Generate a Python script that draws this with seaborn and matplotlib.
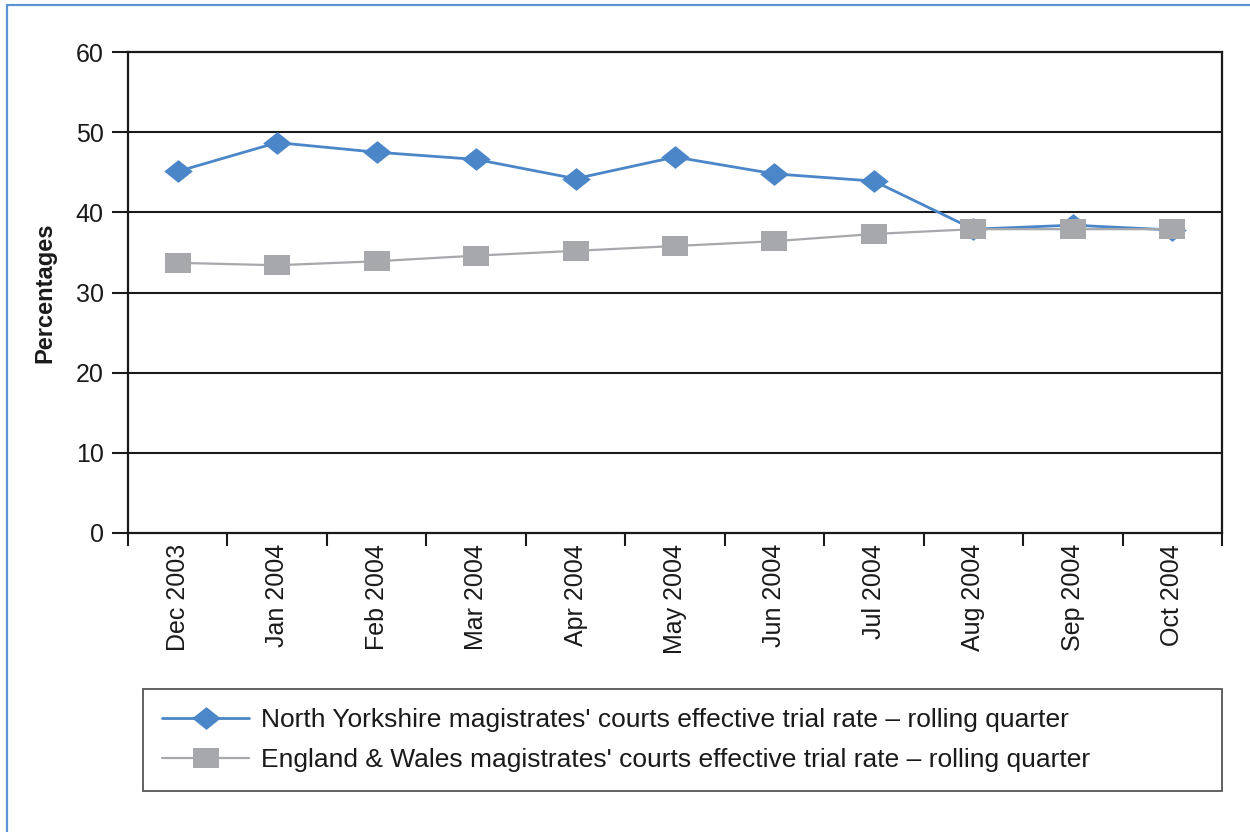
import matplotlib
matplotlib.use("Agg")
import matplotlib.pyplot as plt
from matplotlib.lines import Line2D
from matplotlib.path import Path
from matplotlib.ticker import FixedLocator, NullFormatter
import numpy as np
import pandas as pd
import seaborn as sns

months = ["Dec 2003", "Jan 2004", "Feb 2004", "Mar 2004", "Apr 2004", "May 2004",
          "Jun 2004", "Jul 2004", "Aug 2004", "Sep 2004", "Oct 2004"]
north_yorkshire = [45.1, 48.7, 47.5, 46.6, 44.2, 46.9, 44.8, 43.9, 37.9, 38.4, 37.8]
england_wales = [33.7, 33.4, 33.9, 34.6, 35.2, 35.8, 36.4, 37.3, 37.9, 37.9, 37.9]
series_names = [
    "North Yorkshire magistrates' courts effective trial rate \u2013 rolling quarter",
    "England & Wales magistrates' courts effective trial rate \u2013 rolling quarter",
]
y_ticks = [0, 10, 20, 30, 40, 50, 60]

sns.set_theme(style="white")
plt.rcParams["font.family"] = ["Liberation Sans", "DejaVu Sans"]

BLUE = "#4a86c8"
GREY = "#a7a8ab"
INK = "#1a1a1a"

# wide diamond and wide square markers
diamond = Path([(0, 1), (1.25, 0), (0, -1), (-1.25, 0), (0, 1)], closed=True)
square = Path([(-1.3, -1), (1.3, -1), (1.3, 1), (-1.3, 1), (-1.3, -1)], closed=True)

fig = plt.figure(figsize=(12.5, 8.32), dpi=100)
ax = fig.add_axes([128 / 1250, 1 - 533 / 832, (1222 - 128) / 1250, (533 - 52) / 832])

pos = np.arange(len(months))
df = pd.DataFrame({"pos": np.concatenate([pos, pos]),
                   "value": north_yorkshire + england_wales,
                   "series": [series_names[0]] * len(pos) + [series_names[1]] * len(pos)})

# gridlines first so the series sit on top
for t in y_ticks[1:-1]:
    ax.axhline(t, color=INK, lw=1.5, zorder=1)

sns.lineplot(data=df[df.series == series_names[1]], x="pos", y="value", ax=ax,
             color=GREY, lw=1.6, marker=square, markersize=19, markeredgewidth=0,
             markerfacecolor=GREY, zorder=3, legend=False)
sns.lineplot(data=df[df.series == series_names[0]], x="pos", y="value", ax=ax,
             color=BLUE, lw=2.0, marker=diamond, markersize=20.5, markeredgewidth=0,
             markerfacecolor=BLUE, zorder=2, legend=False)

ax.set_xlim(-0.5, len(months) - 0.5)
ax.set_ylim(0, 60)
ax.set_yticks(y_ticks)
ax.set_yticklabels([str(t) for t in y_ticks], fontsize=18, color=INK)

# category boundaries carry the tick marks, centres carry the labels
ax.xaxis.set_major_locator(FixedLocator(np.arange(-0.5, len(months), 1.0)))
ax.xaxis.set_major_formatter(NullFormatter())
ax.xaxis.set_minor_locator(FixedLocator(pos))
ax.set_xticklabels(months, minor=True, rotation=90, fontsize=18, color=INK)
ax.tick_params(axis="x", which="major", direction="out", length=9, width=1.5,
               color=INK, bottom=True)
ax.tick_params(axis="x", which="minor", length=0, pad=8, bottom=True)
ax.tick_params(axis="y", direction="out", length=11.5, width=1.5, color=INK,
               left=True, pad=6)

ax.set_xlabel("")
ax.set_ylabel("Percentages", fontsize=17, fontweight="bold", labelpad=14, color=INK)

for side in ["left", "right", "top", "bottom"]:
    ax.spines[side].set_visible(True)
    ax.spines[side].set_color(INK)
    ax.spines[side].set_linewidth(1.6)
ax.grid(False)

handles = [
    Line2D([], [], color=BLUE, lw=2.0, marker=diamond, markersize=20.5,
           markeredgewidth=0, markerfacecolor=BLUE),
    Line2D([], [], color=GREY, lw=1.6, marker=square, markersize=19,
           markeredgewidth=0, markerfacecolor=GREY),
]
leg = fig.legend(handles, series_names, loc="upper left",
                 bbox_to_anchor=(143 / 1250, 1 - 791 / 832, (1222 - 143) / 1250, (791 - 689) / 832),
                 mode="expand", fontsize=19, frameon=True, fancybox=False, shadow=False,
                 framealpha=1, handlelength=3.3, handletextpad=0.45, labelspacing=0.62,
                 borderpad=0.72, borderaxespad=0)
frame = leg.get_frame()
frame.set_edgecolor("#555555")
frame.set_linewidth(1.3)
for txt in leg.get_texts():
    txt.set_color(INK)

# outer blue border along the left and top
fig.add_artist(Line2D([7 / 1250, 7 / 1250], [0, 1 - 5 / 832], transform=fig.transFigure,
                      color="#5b93d3", lw=1.6))
fig.add_artist(Line2D([7 / 1250, 1], [1 - 5 / 832, 1 - 5 / 832], transform=fig.transFigure,
                      color="#5b93d3", lw=1.6))

fig.savefig("out.png", dpi=100, facecolor="white")
